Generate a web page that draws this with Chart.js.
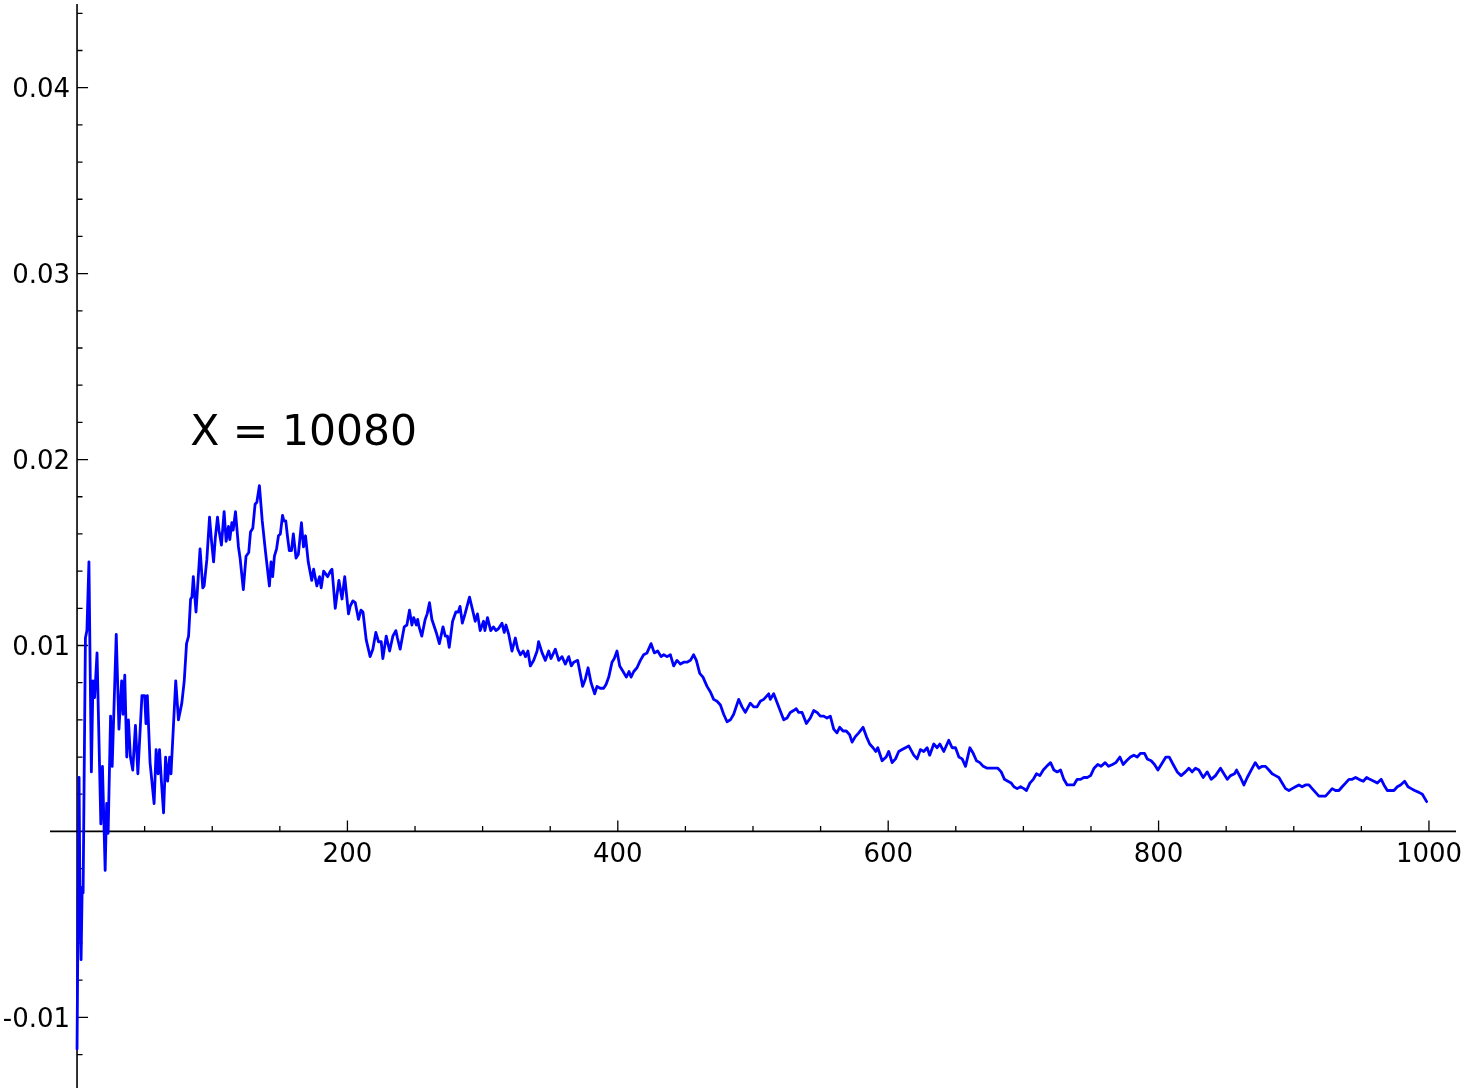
<!DOCTYPE html>
<html>
<head>
<meta charset="utf-8">
<script src="https://cdn.jsdelivr.net/npm/chart.js@4/dist/chart.umd.min.js"></script>
<style>
  html, body { margin: 0; padding: 0; background: #ffffff; }
  #wrap { width: 1471px; height: 1088px; position: relative; }
  canvas { display: block; }
</style>
</head>
<body>
<div id="wrap"><canvas id="c" width="1471" height="1088"></canvas></div>
<script>
// ---- data ----
const stepX = [
  0, 1.5, 2.2, 3, 3.8, 4.5, 6.2, 7.3, 8.8, 10.6, 11.8, 13, 14.8, 17.6, 18.8, 20.8, 21.9, 23, 24.8, 26,
  29, 31, 33, 34, 35.3, 36.8, 38, 39.5, 41.2, 43.2, 45, 48, 50, 51, 52, 54, 57, 58.5, 60, 61,
  62.5, 64, 65.5, 67, 68.5, 69.5, 73, 75, 77.5, 79.3, 81, 82.5, 84, 85, 86, 88, 91, 93, 94, 96,
  98, 99.5, 101, 102.3, 103.9, 105, 106.8, 108.8, 110.3, 112, 113, 114.5, 115.5, 117.2, 119.4, 120.6, 123, 125, 127, 128.3,
  130, 131.7, 133, 134.9, 137, 139.3, 142.3, 143.5, 144.7, 146, 147.6, 149, 150.4, 152, 153, 154.4, 155.6, 157, 158.6, 160,
  162, 163.7, 166, 167.5, 169, 171, 173.6, 175, 177.4, 179.4, 180.6, 182.4, 185.4, 187.4, 188.6, 191, 193.7, 196, 198, 200.8,
  202, 204, 205.8, 208.2, 210, 211.5, 213.9, 216.8, 218.8, 221, 223, 225, 226.2, 228.7, 231.2, 233.6, 235.8, 237, 239, 242,
  244, 245.9, 247.7, 249, 251, 252, 253, 255, 257.5, 259, 260.7, 262.5, 265.7, 268, 270.7, 272.4, 274, 275.3, 277.8, 280.2,
  282, 283.3, 285, 287, 290.3, 292.6, 294.5, 296.2, 298.2, 300.7, 301.7, 303.6, 306, 308, 309.8, 311.7, 314.3, 316, 317.3, 319.3,
  321.7, 324.2, 326, 328, 330, 331.7, 333.5, 335.3, 337.8, 340.3, 341.4, 344, 346.4, 348.9, 350.6, 353.8, 356.3, 358.7, 361.2, 363.7,
  365.6, 367.4, 370.3, 374, 376, 378, 380.2, 382.9, 384.6, 387, 389.5, 391.3, 393.3, 395.7, 397.4, 399.4, 401.4, 403.9, 406.3, 408.3,
  409.8, 411.8, 414.2, 416.7, 419.1, 421.6, 424.6, 427, 429.5, 432, 434, 436.4, 438.9, 441.3, 443.8, 446.3, 448.7, 451.2, 453.7, 456.1,
  458.1, 460.6, 463, 466, 468.5, 470.9, 473.4, 475.9, 478.3, 480.8, 483.3, 485.7, 489.4, 491.9, 494.3, 498, 500.5, 503, 505.4, 507.9,
  511.6, 512.8, 515.3, 519, 522.7, 525.2, 527.6, 530, 532, 533.8, 536.3, 539.5, 542.4, 544.9, 547.4, 549.8, 552.3, 554.7, 557.2, 559.7,
  562.1, 564.1, 566.6, 569, 571.5, 573.3, 575.7, 578.2, 581.4, 583.9, 586.3, 588.8, 590.8, 592.3, 595.5, 598.5, 600.4, 602.9, 605.4, 607.8,
  610.3, 612.8, 615.2, 618.9, 621.4, 623.8, 626.3, 628.8, 630.7, 633.7, 636.2, 638.2, 641.1, 644.8, 647.3, 649.8, 652.3, 654.7, 657.2, 660.4,
  662.9, 665.3, 667.8, 670.3, 673.2, 675.7, 678.7, 681.1, 683.6, 686, 688.5, 691, 693, 695.4, 697.9, 700.4, 702.3, 704.8, 707.3, 709.7,
  712.2, 714.7, 717.2, 720.1, 722.6, 725, 727.5, 729.9, 732.4, 734.9, 737.3, 739.8, 742.3, 744.7, 747.2, 749.7, 752.3, 755, 757.5, 760.5,
  763, 765.9, 768.4, 771.4, 773.8, 776.3, 779.2, 781.7, 784.2, 786.6, 789.6, 791.6, 794.5, 797, 799.5, 802, 805.4, 807.9, 810.8, 813.8,
  816.7, 819.9, 822.4, 824.8, 827.3, 829.8, 833, 836, 838.9, 842.1, 845.8, 848.3, 850.8, 853.2, 856.2, 857.7, 860.6, 863.1, 865.6, 868.5,
  871.5, 874.2, 876.6, 879.1, 881.6, 884, 886.5, 889, 891.4, 893.9, 896.4, 898.8, 901.3, 903.8, 906.2, 908.7, 911.2, 913.6, 916.1, 918.6,
  921, 923.5, 926, 928.4, 930.9, 933.4, 935.8, 938.3, 940.8, 943.2, 945.7, 948.2, 951.4, 953.9, 956.3, 959.3, 961.8, 964.7, 966.7, 969.2,
  971.6, 974.1, 976.6, 979, 982, 984.5, 986.9, 989.4, 992.6, 995.1, 998.3
];
const stepValue = [
  -0.0117, 0.0029, -0.0040, -0.0069, -0.0030, -0.0033, 0.0104, 0.0108, 0.0145, 0.0032, 0.0081, 0.0072, 0.0096, 0.0004, 0.0035, -0.0021, 0.0015, -0.0001, 0.0062, 0.0035,
  0.0106, 0.0055, 0.0081, 0.0063, 0.0084, 0.0040, 0.0060, 0.0040, 0.0033, 0.0057, 0.0031, 0.0073, 0.0073, 0.0058, 0.0073, 0.0037, 0.0015, 0.0044, 0.0031, 0.0044,
  0.0026, 0.0010, 0.0040, 0.0027, 0.0040, 0.0031, 0.0081, 0.0060, 0.0069, 0.0081, 0.0101, 0.0105, 0.0125, 0.0126, 0.0137, 0.0118, 0.0152, 0.0131, 0.0132, 0.0146,
  0.0169, 0.0156, 0.0145, 0.0158, 0.0169, 0.0162, 0.0154, 0.0172, 0.0156, 0.0164, 0.0157, 0.0166, 0.0162, 0.0172, 0.0153, 0.0147, 0.0130, 0.0148, 0.0150, 0.0161,
  0.0163, 0.0176, 0.0177, 0.0186, 0.0167, 0.0151, 0.0132, 0.0145, 0.0137, 0.0148, 0.0152, 0.0159, 0.0160, 0.0170, 0.0167, 0.0167, 0.0159, 0.0151, 0.0151, 0.0160,
  0.0147, 0.0149, 0.0166, 0.0153, 0.0159, 0.0145, 0.0135, 0.0141, 0.0132, 0.0137, 0.0131, 0.0140, 0.0137, 0.0140, 0.0141, 0.0120, 0.0135, 0.0125, 0.0137, 0.0117,
  0.0121, 0.0124, 0.0123, 0.0114, 0.0119, 0.0118, 0.0103, 0.0094, 0.0098, 0.0107, 0.0102, 0.0102, 0.0093, 0.0105, 0.0097, 0.0105, 0.0108, 0.0104, 0.0098, 0.0110,
  0.0111, 0.0119, 0.0111, 0.0115, 0.0111, 0.0114, 0.0110, 0.0105, 0.0114, 0.0117, 0.0123, 0.0114, 0.0107, 0.0101, 0.0110, 0.0105, 0.0105, 0.0099, 0.0113, 0.0118,
  0.0118, 0.0121, 0.0112, 0.0117, 0.0126, 0.0119, 0.0113, 0.0117, 0.0108, 0.0113, 0.0108, 0.0115, 0.0108, 0.0110, 0.0108, 0.0109, 0.0112, 0.0107, 0.0111, 0.0106,
  0.0097, 0.0104, 0.0098, 0.0095, 0.0097, 0.0094, 0.0097, 0.0089, 0.0092, 0.0097, 0.0102, 0.0096, 0.0092, 0.0097, 0.0093, 0.0098, 0.0092, 0.0094, 0.0090, 0.0094,
  0.0089, 0.0091, 0.0092, 0.0078, 0.0082, 0.0088, 0.0080, 0.0074, 0.0078, 0.0077, 0.0077, 0.0079, 0.0083, 0.0091, 0.0093, 0.0097, 0.0089, 0.0086, 0.0083, 0.0086,
  0.0083, 0.0086, 0.0088, 0.0092, 0.0095, 0.0096, 0.0101, 0.0096, 0.0097, 0.0094, 0.0095, 0.0094, 0.0095, 0.0089, 0.0092, 0.0090, 0.0091, 0.0091, 0.0092, 0.0095,
  0.0092, 0.0085, 0.0083, 0.0078, 0.0075, 0.0071, 0.0070, 0.0068, 0.0063, 0.0059, 0.0060, 0.0063, 0.0071, 0.0067, 0.0064, 0.0069, 0.0067, 0.0067, 0.0070, 0.0071,
  0.0074, 0.0071, 0.0074, 0.0067, 0.0060, 0.0061, 0.0064, 0.0065, 0.0066, 0.0064, 0.0064, 0.0058, 0.0061, 0.0065, 0.0064, 0.0062, 0.0062, 0.0061, 0.0062, 0.0055,
  0.0053, 0.0056, 0.0054, 0.0054, 0.0052, 0.0048, 0.0051, 0.0053, 0.0056, 0.0051, 0.0047, 0.0045, 0.0043, 0.0045, 0.0038, 0.0040, 0.0043, 0.0037, 0.0039, 0.0043,
  0.0044, 0.0045, 0.0046, 0.0041, 0.0039, 0.0044, 0.0043, 0.0045, 0.0041, 0.0047, 0.0045, 0.0047, 0.0043, 0.0049, 0.0045, 0.0045, 0.0040, 0.0039, 0.0035, 0.0045,
  0.0042, 0.0038, 0.0037, 0.0035, 0.0034, 0.0034, 0.0034, 0.0034, 0.0032, 0.0028, 0.0027, 0.0026, 0.0024, 0.0023, 0.0024, 0.0023, 0.0022, 0.0026, 0.0028, 0.0031,
  0.0030, 0.0033, 0.0035, 0.0037, 0.0033, 0.0032, 0.0033, 0.0028, 0.0025, 0.0025, 0.0025, 0.0028, 0.0028, 0.0029, 0.0029, 0.0030, 0.0034, 0.0036, 0.0035, 0.0037,
  0.0035, 0.0036, 0.0037, 0.0040, 0.0036, 0.0038, 0.0040, 0.0041, 0.0040, 0.0042, 0.0042, 0.0039, 0.0038, 0.0036, 0.0033, 0.0036, 0.0040, 0.0040, 0.0036, 0.0032,
  0.0030, 0.0032, 0.0034, 0.0032, 0.0034, 0.0033, 0.0029, 0.0032, 0.0028, 0.0030, 0.0034, 0.0031, 0.0028, 0.0030, 0.0031, 0.0033, 0.0029, 0.0025, 0.0029, 0.0033,
  0.0037, 0.0034, 0.0035, 0.0035, 0.0033, 0.0031, 0.0030, 0.0029, 0.0026, 0.0023, 0.0022, 0.0023, 0.0024, 0.0025, 0.0024, 0.0025, 0.0025, 0.0023, 0.0021, 0.0019,
  0.0019, 0.0019, 0.0021, 0.0023, 0.0022, 0.0022, 0.0024, 0.0026, 0.0028, 0.0028, 0.0029, 0.0028, 0.0027, 0.0029, 0.0028, 0.0027, 0.0026, 0.0028, 0.0025, 0.0022,
  0.0022, 0.0022, 0.0024, 0.0025, 0.0027, 0.0024, 0.0023, 0.0022, 0.0021, 0.0020, 0.0016
];
const xTickValues = [200, 400, 600, 800, 1000];
const xTickLabels = ['200', '400', '600', '800', '1000'];
const yTickValues = [-0.01, 0.01, 0.02, 0.03, 0.04];
const yTickLabels = ['-0.01', '0.01', '0.02', '0.03', '0.04'];
const annotationText = 'X = 10080';

// ---- drawing ----
const FONT = '"DejaVu Sans", "Liberation Sans", sans-serif';

const sageAxes = {
  id: 'sageAxes',
  beforeDatasetsDraw(chart) {
    const ctx = chart.ctx;
    const xs = chart.scales.x, ys = chart.scales.y;
    const x0 = xs.getPixelForValue(0);
    const y0 = ys.getPixelForValue(0);
    ctx.save();
    ctx.strokeStyle = '#000000';
    ctx.lineWidth = 1.6;
    ctx.lineCap = 'butt';
    ctx.beginPath();
    ctx.moveTo(xs.getPixelForValue(xs.min), y0);
    ctx.lineTo(xs.getPixelForValue(xs.max), y0);
    ctx.moveTo(x0, ys.getPixelForValue(ys.max));
    ctx.lineTo(x0, ys.getPixelForValue(ys.min));
    ctx.stroke();
    ctx.lineWidth = 1.3;
    ctx.beginPath();
    for (let v = 50; v <= 1000; v += 50) {
      const px = xs.getPixelForValue(v);
      const len = (v % 200 === 0) ? 11 : 5.5;
      ctx.moveTo(px, y0);
      ctx.lineTo(px, y0 - len);
    }
    for (let k = -6; k <= 22; k++) {
      if (k === 0) continue;
      const v = k * 0.002;
      const py = ys.getPixelForValue(v);
      const len = (k % 5 === 0) ? 11 : 5.5;
      ctx.moveTo(x0, py);
      ctx.lineTo(x0 + len, py);
    }
    ctx.stroke();
    ctx.fillStyle = '#000000';
    ctx.font = '26px ' + FONT;
    ctx.textBaseline = 'alphabetic';
    ctx.textAlign = 'center';
    xTickValues.forEach((v, i) => {
      ctx.fillText(xTickLabels[i], xs.getPixelForValue(v), y0 + 31);
    });
    ctx.textAlign = 'right';
    yTickValues.forEach((v, i) => {
      ctx.fillText(yTickLabels[i], x0 - 7, ys.getPixelForValue(v) + 9.6);
    });
    ctx.restore();
  },
  afterDraw(chart) {
    const ctx = chart.ctx;
    const xs = chart.scales.x, ys = chart.scales.y;
    ctx.save();
    ctx.fillStyle = '#000000';
    ctx.font = '42.5px ' + FONT;
    ctx.textAlign = 'left';
    ctx.textBaseline = 'alphabetic';
    ctx.fillText(annotationText, xs.getPixelForValue(83.7), ys.getPixelForValue(0.02079));
    ctx.restore();
  }
};

const points = stepX.map((x, i) => ({ x: x, y: stepValue[i] }));

new Chart(document.getElementById('c'), {
  type: 'line',
  data: {
    datasets: [{
      data: points,
      borderColor: '#0000ff',
      borderWidth: 2.8,
      pointRadius: 0,
      tension: 0,
      fill: false,
      borderJoinStyle: 'round',
      borderCapStyle: 'round'
    }]
  },
  options: {
    responsive: false,
    animation: false,
    devicePixelRatio: 1,
    layout: { padding: { left: 50, right: 15, top: 4, bottom: 0 } },
    plugins: { legend: { display: false }, tooltip: { enabled: false } },
    scales: {
      x: { type: 'linear', min: -20, max: 1020, display: false },
      y: { type: 'linear', min: -0.0138, max: 0.0445, display: false }
    }
  },
  plugins: [sageAxes]
});
</script>
</body>
</html>
